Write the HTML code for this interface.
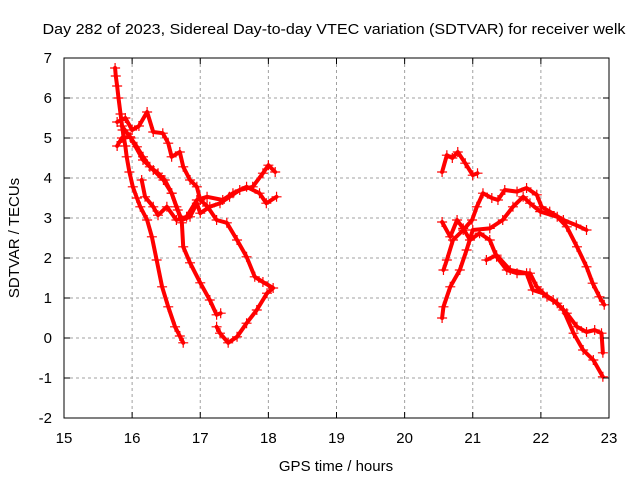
<!DOCTYPE html>
<html><head><meta charset="utf-8"><style>
html,body{margin:0;padding:0;background:#fff;}
svg{display:block;font-family:"Liberation Sans",sans-serif;}
</style></head><body>
<svg id="chart" width="640" height="480" viewBox="0 0 640 480">
<rect width="640" height="480" fill="#fff"/>
<text x="334" y="34" font-size="15" text-anchor="middle" textLength="583" lengthAdjust="spacingAndGlyphs">Day 282 of 2023, Sidereal Day-to-day VTEC variation (SDTVAR) for receiver welk</text>
<g id="grid"></g>
<g id="series"></g>
<rect x="64" y="58" width="545" height="360" fill="none" stroke="#000" stroke-width="1"/>
<g id="axes"></g>
<text x="336" y="471" font-size="15" text-anchor="middle">GPS time / hours</text>
<text transform="translate(19,238) rotate(-90)" font-size="15" text-anchor="middle">SDTVAR / TECUs</text>
</svg>
<script>
const xTicks = [15,16,17,18,19,20,21,22,23];
const yTicks = [-2,-1,0,1,2,3,4,5,6,7];
const traceA = [[15.75,6.75],[15.76,6.55],[15.78,6.3],[15.8,6.0],[15.83,5.6],[15.86,5.2],[15.9,4.8],[15.92,4.53],[15.96,4.15],[16.01,3.78],[16.07,3.5],[16.12,3.28],[16.22,2.95],[16.29,2.53],[16.36,1.95],[16.44,1.28],[16.53,0.78],[16.63,0.28],[16.7,0.05],[16.75,-0.12]];
const traceB = [[15.78,4.8],[15.85,5.0],[15.97,5.03],[16.16,4.45],[16.31,4.2],[16.46,3.95],[16.58,3.62],[16.67,3.2],[16.73,2.88],[16.75,2.28],[16.85,1.88],[17.0,1.38],[17.14,0.95],[17.24,0.58],[17.3,0.62]];
const traceC = [[15.78,5.4],[15.9,5.5],[16.0,5.2],[16.1,5.3],[16.22,5.65],[16.31,5.15],[16.45,5.12],[16.53,4.87],[16.58,4.53],[16.7,4.65],[16.75,4.28],[16.85,3.95],[16.95,3.78],[17.0,3.45],[17.1,3.3],[17.24,2.95],[17.39,2.88],[17.54,2.45],[17.68,2.03],[17.8,1.53],[17.92,1.4],[18.07,1.25],[17.98,1.12],[17.83,0.7],[17.68,0.37],[17.54,0.03],[17.41,-0.12],[17.29,0.12],[17.24,0.28]];
const traceD = [[15.85,5.3],[15.98,5.0],[16.07,4.78],[16.16,4.53],[16.26,4.28],[16.38,4.12],[16.48,3.95],[16.58,3.62],[16.65,3.28],[16.73,2.95],[16.85,3.03],[16.95,3.37],[17.0,3.12],[17.14,3.28],[17.29,3.37],[17.43,3.53],[17.58,3.7],[17.77,3.78],[17.92,4.12],[18.0,4.32],[18.1,4.15]];
const traceE = [[16.14,3.95],[16.19,3.53],[16.31,3.28],[16.38,3.07],[16.51,3.28],[16.65,2.95],[16.8,3.03],[16.95,3.45],[17.1,3.53],[17.33,3.45],[17.48,3.62],[17.68,3.78],[17.87,3.62],[17.97,3.37],[18.12,3.53]];
const traceF = [[20.55,4.15],[20.62,4.57],[20.7,4.5],[20.78,4.65],[20.89,4.37],[21.0,4.07],[21.07,4.12]];
const traceG = [[20.57,1.7],[20.62,1.95],[20.71,2.45],[20.86,2.7],[20.99,2.95],[21.06,3.28],[21.15,3.62],[21.28,3.5],[21.37,3.45],[21.47,3.7],[21.65,3.66],[21.79,3.75],[21.94,3.58],[22.01,3.28],[22.13,3.16],[22.33,2.95],[22.52,2.82],[22.67,2.7]];
const traceH = [[20.55,0.5],[20.57,0.78],[20.67,1.28],[20.81,1.7],[20.91,2.2],[21.0,2.7],[21.25,2.74],[21.44,2.95],[21.59,3.28],[21.74,3.53],[21.84,3.37],[21.99,3.16],[22.24,3.03],[22.38,2.78],[22.53,2.28],[22.67,1.78],[22.76,1.37],[22.86,1.03],[22.93,0.83]];
const traceI = [[20.55,2.9],[20.67,2.53],[20.77,2.95],[20.86,2.74],[20.96,2.45],[21.1,2.62],[21.25,2.45],[21.35,2.03],[21.5,1.7],[21.65,1.62],[21.84,1.62],[21.94,1.28],[22.09,1.03],[22.24,0.87],[22.38,0.62],[22.53,0.28],[22.67,0.15],[22.79,0.2],[22.89,0.12],[22.91,-0.37]];
const traceJ = [[21.2,1.95],[21.35,2.07],[21.55,1.7],[21.79,1.62],[21.88,1.2],[22.03,1.12],[22.18,0.95],[22.33,0.7],[22.48,0.12],[22.62,-0.3],[22.77,-0.55],[22.91,-0.97]];
const traces = [traceA,traceB,traceC,traceD,traceE,traceF,traceG,traceH,traceI,traceJ];

const NS='http://www.w3.org/2000/svg';
const L=64,R=609,T=58,B=418;
const sx=h=>L+(h-15)/(23-15)*(R-L);
const sy=v=>T+(7-v)/(7-(-2))*(B-T);
const grid=document.getElementById('grid'), axes=document.getElementById('axes'), ser=document.getElementById('series');
function mk(tag,attrs,parent){const e=document.createElementNS(NS,tag);for(const k in attrs)e.setAttribute(k,attrs[k]);parent.appendChild(e);return e;}
xTicks.forEach(t=>{
  const x=sx(t);
  if(t>15&&t<23){const g=mk('line',{x1:x,y1:T,x2:x,y2:B,stroke:'#a0a0a0','stroke-dasharray':'3,3'},grid);
  
  }
  mk('line',{x1:x,y1:B,x2:x,y2:B-6,stroke:'#000'},axes);
  mk('line',{x1:x,y1:T,x2:x,y2:T+6,stroke:'#000'},axes);
  const tx=mk('text',{x:x,y:B+25,'font-size':15,'text-anchor':'middle'},axes);tx.textContent=t;
  
  
});
yTicks.forEach(t=>{
  const y=sy(t);
  if(t>-2&&t<7){const g=mk('line',{x1:L,y1:y,x2:R,y2:y,stroke:'#a0a0a0','stroke-dasharray':'3,3'},grid);
  
  }
  mk('line',{x1:L,y1:y,x2:L+6,y2:y,stroke:'#000'},axes);
  mk('line',{x1:R,y1:y,x2:R-6,y2:y,stroke:'#000'},axes);
  const tx=mk('text',{x:L-12,y:y+5,'font-size':15,'text-anchor':'end'},axes);tx.textContent=t;
  
  
});
traces.forEach((tr,i)=>{
  const pl=mk('polyline',{points:tr.map(p=>sx(p[0])+','+sy(p[1])).join(' '),fill:'none',stroke:'#f00','stroke-width':4,'stroke-linejoin':'round','stroke-linecap':'round'},ser);
  
  
  tr.forEach(p=>{
    const x=sx(p[0]),y=sy(p[1]);
    const m=mk('path',{d:`M${x-5},${y}H${x+5}M${x},${y-5}V${y+5}`,stroke:'#f00','stroke-width':1.2},ser);
    
    
  });
});
</script>
</body></html>
